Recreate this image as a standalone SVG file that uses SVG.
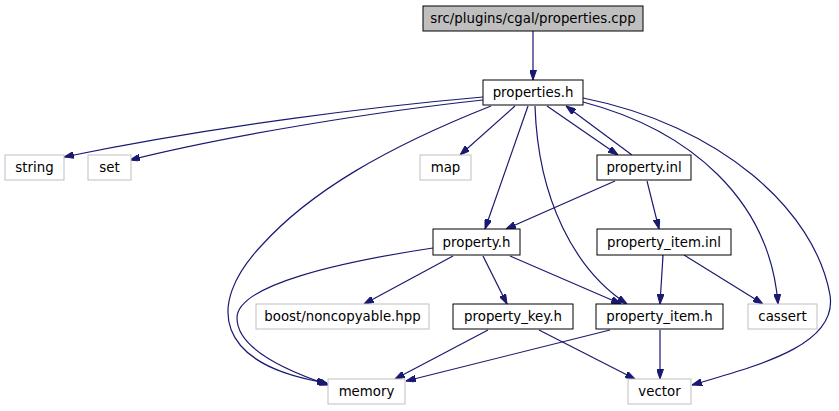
<svg xmlns="http://www.w3.org/2000/svg" width="839" height="411" viewBox="0 0 839 411">
<style>
.n rect{fill:#fff;stroke:#000;stroke-width:1}
.g rect{fill:#fff;stroke:#bfbfbf;stroke-width:1}
.root rect{fill:#bfbfbf;stroke:#000;stroke-width:1}
text{font-family:"DejaVu Sans","Liberation Sans",sans-serif;font-size:13.33px;fill:#000;text-anchor:middle}
.e path{fill:none;stroke:#191970;stroke-width:1.2;marker-end:url(#ah)}
</style>
<defs>
<marker id="ah" viewBox="0 0 10 7" refX="10" refY="3.5" markerWidth="10" markerHeight="7" markerUnits="userSpaceOnUse" orient="auto">
<path d="M0,0 L10,3.5 L0,7 Z" fill="#191970" stroke="#191970" stroke-width="1"/>
</marker>
</defs>
<g class="e" id="edges">
<path d="M533,31 L533,80"/>
<path d="M483,97 C380,106 220,125 64,157"/>
<path d="M483,100 C380,111 230,135 130,160"/>
<path d="M491,106 C385,148 310,192 262,245 C205,305 215,365 327,383"/>
<path d="M515,106 L460,155"/>
<path d="M528,106 L485,229"/>
<path d="M535,106 C538,200 575,270 627,304"/>
<path d="M547,106 L618,155"/>
<path d="M632,155 L566,106"/>
<path d="M583,102 C690,130 770,200 778,304"/>
<path d="M583,98 C720,125 815,210 830,295 C838,345 760,365 692,385"/>
<path d="M615,181 L506,229"/>
<path d="M647,181 L659,229"/>
<path d="M663,255 L660,304"/>
<path d="M684,255 L763,304"/>
<path d="M433,248 C340,262 237,285 237,318 C237,350 290,372 329,385"/>
<path d="M453,256 L364,304"/>
<path d="M483,256 L507,304"/>
<path d="M510,256 L621,304"/>
<path d="M488,330 L395,379"/>
<path d="M539,330 L635,379"/>
<path d="M610,330 L406,381"/>
<path d="M660,330 L660,379"/>
</g>
<g id="node_cpp" class="root"><rect x="423" y="6" width="220" height="25"/><text x="533" y="23">src/plugins/cgal/properties.cpp</text></g>
<g id="node_properties_h" class="n"><rect x="483" y="80" width="100" height="25"/><text x="533" y="97">properties.h</text></g>
<g id="node_string" class="g"><rect x="5" y="155" width="59" height="25"/><text x="34.5" y="172">string</text></g>
<g id="node_set" class="g"><rect x="88" y="155" width="43" height="25"/><text x="109.5" y="172">set</text></g>
<g id="node_map" class="g"><rect x="420" y="155" width="51" height="25"/><text x="445.5" y="172">map</text></g>
<g id="node_property_inl" class="n"><rect x="597" y="155" width="94" height="25"/><text x="644" y="172">property.inl</text></g>
<g id="node_property_h" class="n"><rect x="433" y="229" width="87" height="26"/><text x="476.5" y="247">property.h</text></g>
<g id="node_property_item_inl" class="n"><rect x="597" y="229" width="134" height="26"/><text x="664" y="247">property_item.inl</text></g>
<g id="node_boost" class="g"><rect x="256" y="304" width="173" height="25"/><text x="342.5" y="321">boost/noncopyable.hpp</text></g>
<g id="node_property_key_h" class="n"><rect x="453" y="304" width="120" height="25"/><text x="513" y="321">property_key.h</text></g>
<g id="node_property_item_h" class="n"><rect x="596" y="304" width="127" height="25"/><text x="659.5" y="321">property_item.h</text></g>
<g id="node_cassert" class="g"><rect x="748" y="304" width="69" height="25"/><text x="782.5" y="321">cassert</text></g>
<g id="node_memory" class="g"><rect x="328" y="379" width="77" height="25"/><text x="366.5" y="396">memory</text></g>
<g id="node_vector" class="g"><rect x="628" y="379" width="63" height="25"/><text x="659.5" y="396">vector</text></g>
</svg>
